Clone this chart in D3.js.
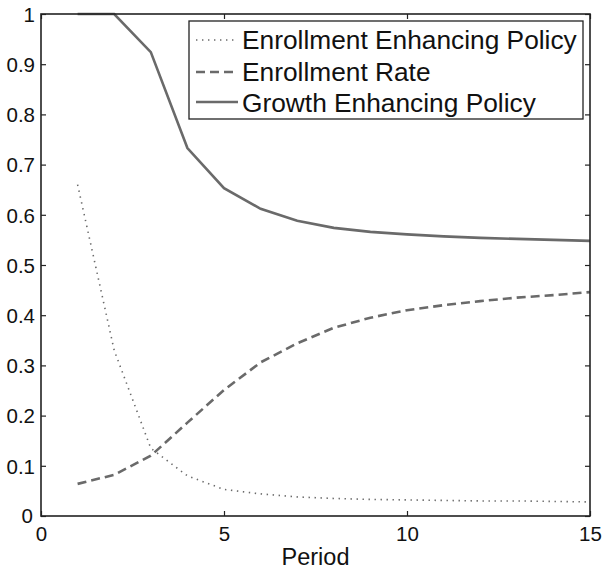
<!DOCTYPE html>
<html><head><meta charset="utf-8">
<script src="https://cdn.jsdelivr.net/npm/d3@7"></script>
<style>body{margin:0;background:#fff}svg{display:block}</style>
</head><body>
<svg id="chart" width="603" height="569"></svg>
<script>
const periods = [1,2,3,4,5,6,7,8,9,10,11,12,13,14,15];
const enrollmentPolicy = [0.66,0.33,0.135,0.08,0.053,0.044,0.038,0.035,0.033,0.032,0.031,0.030,0.030,0.029,0.028];
const enrollmentRate = [0.064,0.082,0.12,0.186,0.251,0.306,0.344,0.375,0.395,0.41,0.42,0.428,0.435,0.44,0.446];
const growthPolicy = [1.0,1.0,0.924,0.733,0.653,0.612,0.588,0.574,0.566,0.561,0.557,0.554,0.552,0.550,0.548];
const xTicks = [0,5,10,15];
const yTicks = [0,0.1,0.2,0.3,0.4,0.5,0.6,0.7,0.8,0.9,1];
const yTickLabels = ["0","0.1","0.2","0.3","0.4","0.5","0.6","0.7","0.8","0.9","1"];
const seriesNames = ["Enrollment Enhancing Policy","Enrollment Rate","Growth Enhancing Policy"];
const xLabel = "Period";

(function(){
const svg = d3.select("#chart");
const m = {l:41, r:13, t:14, b:53};
const W = 603, H = 569;
const x = d3.scaleLinear().domain([0,15]).range([m.l, W-m.r]);
const y = d3.scaleLinear().domain([0,1]).range([H-m.b, m.t]);
const font = "'Liberation Sans', Arial, Helvetica, sans-serif";
const axisColor = "#222";
const lineColor = "#6a6a6a";

const styles = [
  {dash:"1.4,4.6", w:1.6},
  {dash:"9,5", w:2.6},
  {dash:null, w:2.6}
];
const series = [enrollmentPolicy, enrollmentRate, growthPolicy];

const line = d3.line().x((d,i)=>x(periods[i])).y(d=>y(d));
const plot = svg.append("g");
series.forEach((s,k)=>{
  plot.append("path").datum(s).attr("d",line)
    .attr("fill","none").attr("stroke",lineColor)
    .attr("stroke-width",styles[k].w)
    .attr("stroke-dasharray",styles[k].dash);
});

function styleAxis(g){
  g.select(".domain").remove();
  g.selectAll(".tick line").attr("stroke",axisColor).attr("stroke-width",1.2);
  g.selectAll(".tick text").attr("fill","#111").attr("font-family",font).attr("font-size","20.5px");
}
const axB = svg.append("g").attr("transform",`translate(0,${H-m.b})`)
  .call(d3.axisBottom(x).tickValues(xTicks).tickFormat(d3.format("d")).tickSizeInner(-5).tickPadding(9));
styleAxis(axB);
axB.selectAll(".tick text").attr("dy","0.75em").attr("y",10);
const axT = svg.append("g").attr("transform",`translate(0,${m.t})`)
  .call(d3.axisTop(x).tickValues(xTicks).tickSizeInner(-5).tickFormat(""));
styleAxis(axT);
const axL = svg.append("g").attr("transform",`translate(${m.l},0)`)
  .call(d3.axisLeft(y).tickValues(yTicks).tickFormat((d,i)=>yTickLabels[i]).tickSizeInner(-5).tickPadding(6));
styleAxis(axL);
axL.selectAll(".tick text").attr("dy","0.36em");
axL.selectAll(".tick").filter(d=>d===0).select("text").attr("dy","0.33em").attr("x",-8);
const axR = svg.append("g").attr("transform",`translate(${W-m.r},0)`)
  .call(d3.axisRight(y).tickValues(yTicks).tickSizeInner(-5).tickFormat(""));
styleAxis(axR);

svg.append("rect").attr("x",m.l).attr("y",m.t).attr("width",W-m.l-m.r).attr("height",H-m.t-m.b)
  .attr("fill","none").attr("stroke",axisColor).attr("stroke-width",1.6);

svg.append("text").attr("x",(m.l+W-m.r)/2).attr("y",565).attr("text-anchor","middle")
  .attr("font-family",font).attr("font-size","23.5px").attr("fill","#111").text(xLabel);

const lg = svg.append("g");
lg.append("rect").attr("x",189).attr("y",21).attr("width",394).attr("height",98)
  .attr("fill","#fff").attr("stroke","#222").attr("stroke-width",1.3);
const rowY = [40,72,102];
const baseY = [48.5,80.5,111.5];
seriesNames.forEach((name,k)=>{
  lg.append("line").attr("x1",196).attr("x2",238).attr("y1",rowY[k]).attr("y2",rowY[k])
    .attr("stroke",lineColor).attr("stroke-width",styles[k].w).attr("stroke-dasharray",styles[k].dash);
  lg.append("text").attr("x",242).attr("y",baseY[k])
    .attr("font-family",font).attr("font-size","26.3px").attr("fill","#111").text(name);
});
})();
</script>
</body></html>
